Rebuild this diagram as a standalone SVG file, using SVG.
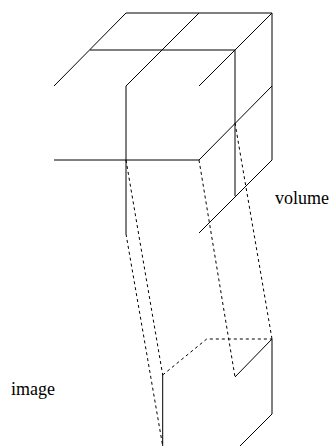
<svg xmlns="http://www.w3.org/2000/svg" width="336" height="446" viewBox="0 0 336 446">
<style>
.s{fill:none;stroke:#000;stroke-width:1}
.d{fill:none;stroke:#000;stroke-width:1;stroke-dasharray:3,3}
.t{font-family:"Liberation Serif","Times New Roman",serif;font-size:18px;fill:#000}
</style>
<rect width="336" height="446" fill="#fff"/>
<g id="volume">
<path class="s" d="M126,13H272M126,13L54,86M199,13L126,86M272,13L199,86M90,50H235M272,13V160M235,50V196M126,86V234M272,86L199,160M54,160H199M272,160L199,233"/>
</g>
<g id="image">
<path class="d" d="M162.7,375L206.7,339H272"/>
<path class="s" d="M272,339L235,377M272,339V414L240,446M162.7,375V446"/>
</g>
<g id="connectors">
<path class="d" d="M126,160L162.7,375M126,234L162.7,446M199,160L235,377M235,123L272,339"/>
</g>
<g id="labels">
<text class="t" x="275" y="204">volume</text>
<text class="t" x="11" y="395">image</text>
</g>
</svg>
